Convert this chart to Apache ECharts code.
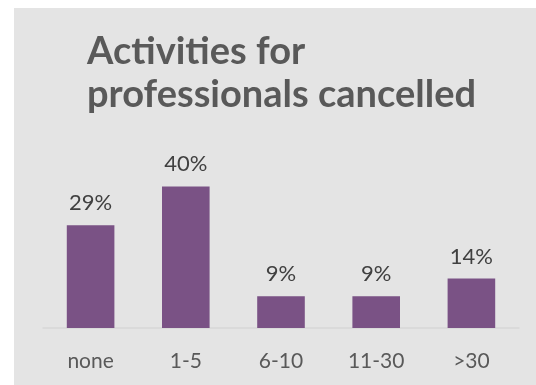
<!DOCTYPE html>
<html>
<head>
<meta charset="utf-8">
<script src="https://cdn.jsdelivr.net/npm/echarts@6/dist/echarts.min.js"></script>
<style>
  html, body { margin: 0; padding: 0; background: #ffffff; }
  #chart { width: 536px; height: 385px; }
</style>
</head>
<body>
<div id="chart"></div>
<script>
// Number of activities for professionals cancelled, share of respondents (%)
const categories = ['none', '1-5', '6-10', '11-30', '>30'];
const shares = [29, 40, 9, 9, 14];
const titleText = 'Activities for\nprofessionals cancelled';

const chart = echarts.init(document.getElementById('chart'), null, { renderer: 'canvas' });

chart.setOption({
  animation: false,
  backgroundColor: '#ffffff',
  graphic: [{
    type: 'rect',
    left: 14,
    top: 8,
    z: -10,
    silent: true,
    shape: { width: 522, height: 377 },
    style: { fill: '#e4e4e4' }
  }],
  title: {
    text: titleText,
    left: 82,
    top: 25,
    textStyle: {
      fontFamily: 'Lato',
      fontWeight: 'bold',
      fontSize: 38,
      lineHeight: 43,
      color: '#595959'
    }
  },
  grid: {
    left: 43,
    right: 17,
    top: 151,
    bottom: 57
  },
  xAxis: {
    type: 'category',
    data: categories,
    axisLine: { show: true, lineStyle: { color: '#d6d6d6', width: 1.5 } },
    axisTick: { show: false },
    axisLabel: {
      margin: 23,
      fontFamily: 'Lato',
      fontSize: 21,
      color: '#595959'
    }
  },
  yAxis: {
    type: 'value',
    min: 0,
    max: 50,
    show: false,
    splitLine: { show: false }
  },
  series: [{
    type: 'bar',
    data: shares,
    barWidth: '50%',
    itemStyle: { color: '#7a5285' },
    label: {
      show: true,
      position: 'top',
      distance: 11,
      formatter: '{c}%',
      fontFamily: 'Lato',
      fontSize: 22,
      color: '#404040'
    }
  }]
});
</script>
</body>
</html>
